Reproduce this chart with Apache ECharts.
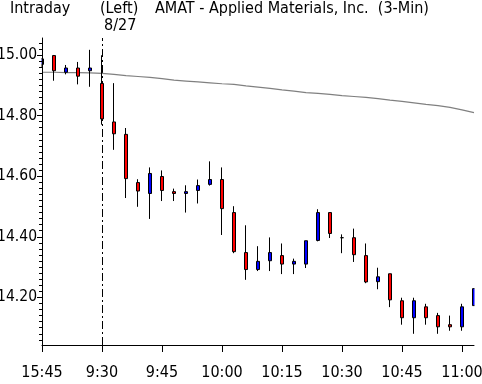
<!DOCTYPE html>
<html>
<head>
<meta charset="utf-8">
<script src="https://cdn.jsdelivr.net/npm/echarts@6/dist/echarts.min.js"></script>
<style>
html,body{margin:0;padding:0;background:#fff;}
#chart{width:482px;height:384px;}
</style>
</head>
<body>
<div id="chart"></div>
<script>
var categories = ["15:45","15:48","15:51","15:54","15:57",
  "9:30","9:33","9:36","9:39","9:42","9:45","9:48","9:51","9:54","9:57",
  "10:00","10:03","10:06","10:09","10:12","10:15","10:18","10:21","10:24","10:27",
  "10:30","10:33","10:36","10:39","10:42","10:45","10:48","10:51","10:54","10:57",
  "11:00","11:03"];
var opens  = [14.969,14.998,14.943,14.957,14.948,14.906,14.779,14.738,14.579,14.543,14.599,14.549,14.543,14.553,14.573,14.589,14.480,14.348,14.292,14.321,14.338,14.310,14.310,14.388,14.480,14.397,14.397,14.338,14.252,14.278,14.189,14.133,14.169,14.140,14.110,14.103,14.173];
var closes = [14.987,14.948,14.957,14.930,14.957,14.789,14.740,14.592,14.551,14.609,14.553,14.543,14.549,14.569,14.589,14.493,14.351,14.292,14.319,14.348,14.310,14.319,14.387,14.480,14.411,14.397,14.341,14.251,14.268,14.192,14.133,14.189,14.133,14.103,14.103,14.169,14.229];
var lows   = [14.957,14.915,14.936,14.903,14.895,14.770,14.687,14.528,14.499,14.459,14.518,14.518,14.480,14.510,14.569,14.406,14.346,14.258,14.287,14.287,14.277,14.277,14.297,14.385,14.396,14.346,14.317,14.247,14.227,14.168,14.110,14.080,14.110,14.080,14.090,14.090,14.173];
var highs  = [14.990,15.000,14.967,14.977,15.017,14.999,14.907,14.759,14.590,14.629,14.619,14.559,14.570,14.589,14.649,14.629,14.501,14.438,14.369,14.398,14.378,14.328,14.387,14.491,14.480,14.408,14.427,14.378,14.298,14.278,14.199,14.199,14.179,14.149,14.140,14.179,14.229];
var movingAvg = [14.943,14.943,14.942,14.942,14.941,14.939,14.936,14.932,14.929,14.926,14.922,14.917,14.914,14.911,14.908,14.905,14.903,14.898,14.894,14.890,14.885,14.881,14.876,14.873,14.870,14.866,14.863,14.860,14.856,14.851,14.847,14.842,14.837,14.833,14.827,14.819,14.810];
var yTickLabels = [14.20, 14.40, 14.60, 14.80, 15.00];
var sessionStart = "9:30";
var titleLeft = "Intraday";
var titleMid = "(Left)";
var titleDate = "8/27";
var titleMain = "AMAT - Applied Materials, Inc.  (3-Min)";

var FONT = "'Liberation Sans Narrow','DejaVu Sans Condensed',sans-serif";
var yMin = 14.043, yMax = 15.056;
var GL = 42, GR = 474, GT = 38, GB = 345;
var minorTicks = [];
for (var k = 0; k <= 50; k++) {
  var v = Math.round((14.06 + 0.02 * k) * 100) / 100;
  if (v <= yMax) minorTicks.push(v);
}

var candleData = categories.map(function (c, i) {
  return [opens[i], closes[i], lows[i], highs[i]];
});

var chart = echarts.init(document.getElementById('chart'), null, {renderer: 'canvas'});
chart.setOption({
  animation: false,
  backgroundColor: '#ffffff',
  grid: {left: GL, right: 482 - GR, top: GT, bottom: 384 - GB, containLabel: false, outerBoundsMode: 'none'},
  xAxis: {
    type: 'category',
    data: categories,
    boundaryGap: false,
    z: 10,
    axisLine: {show: true, lineStyle: {color: '#000', width: 1}},
    axisTick: {show: true, inside: false, length: 7, interval: 4, lineStyle: {color: '#000'}},
    axisLabel: {show: true, interval: 4, margin: 20, color: '#000', fontSize: 16, fontFamily: FONT},
    splitLine: {show: false}
  },
  yAxis: [{
    type: 'value',
    min: yMin, max: yMax,
    position: 'left',
    z: 10,
    axisLine: {show: true, lineStyle: {color: '#000', width: 1}},
    axisTick: {show: true, inside: false, length: 5, customValues: yTickLabels, lineStyle: {color: '#000'}},
    axisLabel: {show: true, customValues: yTickLabels, margin: 5, color: '#000', fontSize: 15.5, fontFamily: FONT,
      formatter: function (v) { return v.toFixed(2); }},
    splitLine: {show: false}
  }, {
    type: 'value',
    min: yMin, max: yMax,
    position: 'left',
    offset: 0,
    z: 10,
    axisLine: {show: false},
    axisTick: {show: true, inside: false, length: 3, customValues: minorTicks, lineStyle: {color: '#000'}},
    axisLabel: {show: false},
    splitLine: {show: false}
  }],
  series: [{
    type: 'line',
    data: movingAvg,
    symbol: 'none',
    z: 1,
    lineStyle: {color: '#808080', width: 1.2},
    silent: true,
    markLine: {
      silent: true,
      z: 1,
      symbol: ['none', 'none'],
      label: {show: false},
      lineStyle: {color: '#000', width: 1, type: [8, 3, 2, 3]},
      data: [{xAxis: sessionStart}]
    }
  }, {
    type: 'candlestick',
    data: candleData,
    barWidth: 4,
    clip: true,
    z: 3,
    itemStyle: {
      color: '#0000ff', color0: '#ff0000',
      borderColor: '#000000', borderColor0: '#000000', borderColorDoji: '#000000',
      borderWidth: 1
    }
  }],
  graphic: [
    {type: 'rect', z: 5, silent: true, shape: {x: GL - 6, y: GT - 2, width: 5.5, height: GB - GT + 4}, style: {fill: '#fff'}},
    {type: 'rect', z: 5, silent: true, shape: {x: GR + 0.5, y: GT - 2, width: 482 - GR, height: GB - GT + 4}, style: {fill: '#fff'}},
    {type: 'text', z: 20, left: 10, top: 1, style: {text: titleLeft, font: '16px ' + FONT, fill: '#000'}},
    {type: 'text', z: 20, left: 100, top: 1, style: {text: titleMid, font: '16px ' + FONT, fill: '#000'}},
    {type: 'text', z: 20, left: 104, top: 18, style: {text: titleDate, font: '16px ' + FONT, fill: '#000'}},
    {type: 'text', z: 20, left: 155, top: 1, style: {text: titleMain, font: '16px ' + FONT, fill: '#000'}}
  ]
});
</script>
</body>
</html>
